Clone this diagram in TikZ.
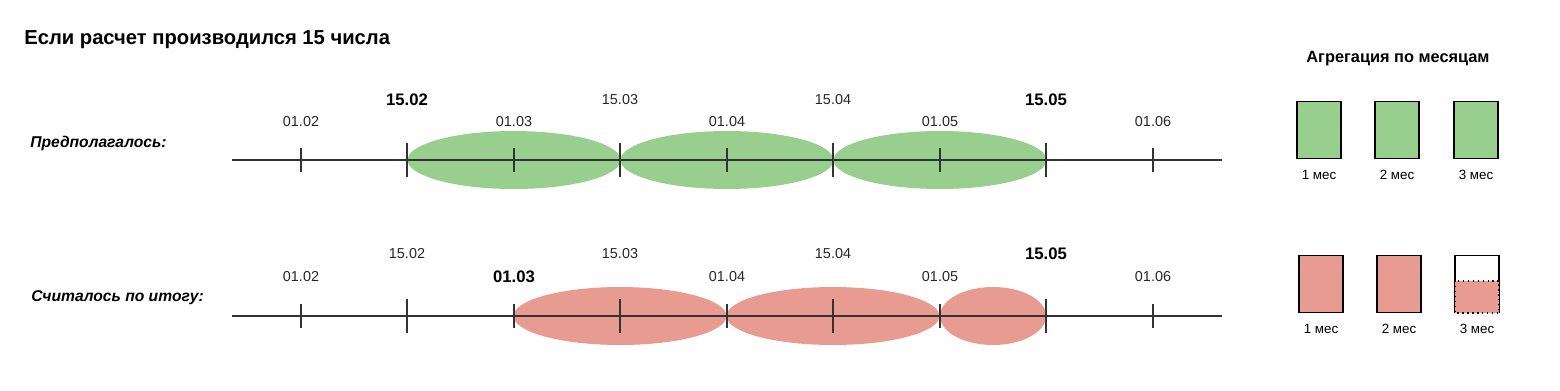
\documentclass[tikz,border=0pt]{standalone}
\usepackage{fontspec}
\setmainfont{Liberation Sans}
\usetikzlibrary{shapes.geometric,positioning}

\definecolor{planGreen}{RGB}{152,206,142}
\definecolor{factRed}{RGB}{232,155,144}
\definecolor{axisGray}{RGB}{51,51,51}

\begin{document}
\begin{tikzpicture}[
    x=0.02cm, y=-0.02cm,
    axis/.style={draw=axisGray, line width=1.3pt},
    tick/.style={draw=axisGray, line width=1.3pt},
    date/.style={font=\fontsize{8.2}{9}\selectfont, text=black!85, inner sep=1pt},
    bdate/.style={font=\fontsize{9.5}{10}\selectfont\bfseries, inner sep=1pt},
    rowlabel/.style={font=\fontsize{8.9}{10}\selectfont\bfseries\itshape, anchor=west, inner sep=0pt},
    planell/.style={ellipse, fill=planGreen, inner sep=0pt, minimum height=1.16cm},
    factell/.style={ellipse, fill=factRed, inner sep=0pt, minimum height=1.16cm},
    month/.style={rectangle, draw=black, line width=0.8pt, minimum width=0.88cm, minimum height=1.15cm, inner sep=0pt},
    mlabel/.style={font=\fontsize{7.6}{9}\selectfont, inner sep=1pt}
]
\useasboundingbox (0,0) rectangle (1560,390);

% Title
\node[anchor=west, inner sep=0pt, font=\fontsize{11.5}{14}\selectfont\bfseries] (title) at (24,40) {Если расчет производился 15 числа};

% Row labels
\node[rowlabel] (plan) at (30,143) {Предполагалось:};
\node[rowlabel] (fact) at (31,298) {Считалось по итогу:};

% Planned periods (top row)
\node[planell, minimum width=4.26cm] (p1) at (514,160) {};
\node[planell, minimum width=4.26cm] (p2) at (727,160) {};
\node[planell, minimum width=4.26cm] (p3) at (940,160) {};

% Actual periods (bottom row)
\node[factell, minimum width=4.26cm] (f1) at (620,316) {};
\node[factell, minimum width=4.26cm] (f2) at (833,316) {};
\node[factell, minimum width=2.12cm] (f3) at (993,316) {};

% Axes
\coordinate (ta) at (232,160);
\coordinate (tb) at (1222,160);
\coordinate (ba) at (232,316);
\coordinate (bb) at (1222,316);
\draw[axis] (ta) -- (tb);
\draw[axis] (ba) -- (bb);

% Ticks: first of month short, 15th long
\foreach \x in {301,514,727,940,1153} {
  \draw[tick] (\x,148) -- (\x,172);
  \draw[tick] (\x,304) -- (\x,328);
}
\foreach \x in {407,620,833,1046} {
  \draw[tick] (\x,143) -- (\x,177);
  \draw[tick] (\x,299) -- (\x,333);
}

% Top dates
\node[date] (t0102) at (301,122) {01.02};
\node[bdate] (t1502) at (407,100) {15.02};
\node[date] (t0103) at (514,122) {01.03};
\node[date] (t1503) at (620,100) {15.03};
\node[date] (t0104) at (727,122) {01.04};
\node[date] (t1504) at (833,100) {15.04};
\node[date] (t0105) at (940,122) {01.05};
\node[bdate] (t1505) at (1046,100) {15.05};
\node[date] (t0106) at (1153,122) {01.06};

% Bottom dates
\node[date] (b0102) at (301,277) {01.02};
\node[date] (b1502) at (407,254) {15.02};
\node[bdate] (b0103) at (514,277) {01.03};
\node[date] (b1503) at (620,254) {15.03};
\node[date] (b0104) at (727,277) {01.04};
\node[date] (b1504) at (833,254) {15.04};
\node[date] (b0105) at (940,277) {01.05};
\node[bdate] (b1505) at (1046,254) {15.05};
\node[date] (b0106) at (1153,277) {01.06};

% Aggregation
\node[inner sep=0pt, font=\fontsize{9.3}{10}\selectfont\bfseries] (agg) at (1398,59) {Агрегация по месяцам};

\node[month, fill=planGreen] (pm1) at (1319,130) {};
\node[month, fill=planGreen] (pm2) at (1397,130) {};
\node[month, fill=planGreen] (pm3) at (1476,130) {};
\node[mlabel, below=0.18cm of pm1] (pl1) {1 мес};
\node[mlabel, below=0.18cm of pm2] (pl2) {2 мес};
\node[mlabel, below=0.18cm of pm3] (pl3) {3 мес};

\node[month, fill=factRed] (fm1) at (1321,284) {};
\node[month, fill=factRed] (fm2) at (1399,284) {};
\node[month] (fm3) at (1477,284) {};
\fill[factRed] (1455,281) rectangle (1499,313);
\draw[black, line width=0.8pt, dotted] (1455,281) rectangle (1499,313);
\node[mlabel, below=0.18cm of fm1] (fl1) {1 мес};
\node[mlabel, below=0.18cm of fm2] (fl2) {2 мес};
\node[mlabel, below=0.18cm of fm3] (fl3) {3 мес};

\end{tikzpicture}
\end{document}
